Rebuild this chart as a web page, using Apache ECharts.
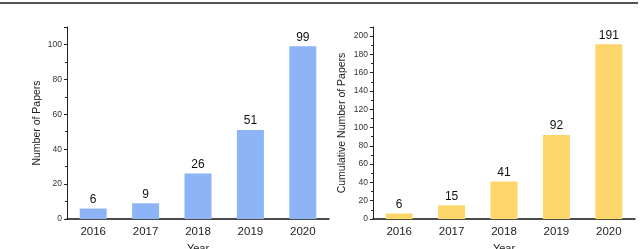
<!DOCTYPE html>
<html><head><meta charset="utf-8">
<script src="https://cdn.jsdelivr.net/npm/echarts@6/dist/echarts.min.js"></script>
<style>html,body{margin:0;padding:0;background:#fff}#c{width:640px;height:249px}</style>
</head><body><div id="c"></div>
<script>
const years = ['2016','2017','2018','2019','2020'];
const papers = [6, 9, 26, 51, 99];
const cumulative = [6, 15, 41, 92, 191];

const font = 'Liberation Sans, Arial, sans-serif';
const chart = echarts.init(document.getElementById('c'));
function yAxis(gi, max, interval, name, gap){
  return {
    type:'value', gridIndex:gi, min:0, max:max, interval:interval,
    name:name, nameLocation:'middle', nameGap:gap,
    nameTextStyle:{fontFamily:font,fontSize:10.5,color:'#222'},
    axisLine:{show:true,lineStyle:{color:'#222',width:1}},
    axisTick:{show:true,length:3,lineStyle:{color:'#222'}},
    minorTick:{show:true,splitNumber:2,length:2,lineStyle:{color:'#222'}},
    splitLine:{show:false},
    axisLabel:{fontFamily:font,fontSize:8.5,color:'#333',margin:5,
      formatter:function(v){return v===max?'':v;}}
  };
}
function xAxis(gi){
  return {
    type:'category', gridIndex:gi, data:years,
    name:'Year', nameLocation:'middle', nameGap:24,
    nameTextStyle:{fontFamily:font,fontSize:11,color:'#222'},
    axisLine:{lineStyle:{color:'#111',width:1.5}},
    axisTick:{show:false},
    axisLabel:{fontFamily:font,fontSize:11.5,color:'#222',margin:7}
  };
}
chart.setOption({
  animation:false,
  graphic:[{type:'line',shape:{x1:0,y1:3,x2:638,y2:3},style:{stroke:'#555',lineWidth:2}}],
  grid:[
    {left:67, top:27, width:262, height:192, outerBoundsMode:'none', containLabel:false},
    {left:373, top:27, width:262, height:192, outerBoundsMode:'none', containLabel:false}
  ],
  xAxis:[xAxis(0), xAxis(1)],
  yAxis:[yAxis(0,110,20,'Number of Papers',24), yAxis(1,210,20,'Cumulative Number of Papers',25)],
  series:[
    {type:'bar', xAxisIndex:0, yAxisIndex:0, data:papers, barWidth:27,
     itemStyle:{color:'#8db4f7'},
     label:{show:true,position:'top',distance:3,fontFamily:font,fontSize:12,color:'#111'}},
    {type:'bar', xAxisIndex:1, yAxisIndex:1, data:cumulative, barWidth:27,
     itemStyle:{color:'#fdd66b'},
     label:{show:true,position:'top',distance:3,fontFamily:font,fontSize:12,color:'#111'}}
  ]
});
</script></body></html>
